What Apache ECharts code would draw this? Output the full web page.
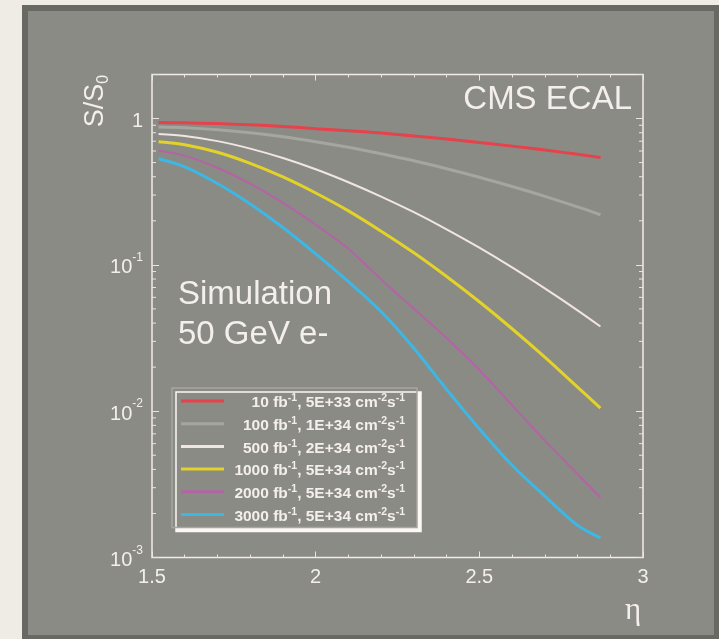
<!DOCTYPE html>
<html>
<head>
<meta charset="utf-8">
<title>CMS ECAL S/S0 vs eta</title>
<script src="https://cdn.jsdelivr.net/npm/echarts@6/dist/echarts.min.js"></script>
<style>
  html, body { margin: 0; padding: 0; background: #efece6; }
  #main { width: 719px; height: 639px; }
</style>
</head>
<body>
<div id="main"></div>
<script>
const eta = [1.52, 1.6, 1.7, 1.8, 1.9, 2.0, 2.1, 2.2, 2.3, 2.4, 2.5, 2.6, 2.7, 2.8, 2.87]

// S/S0 for each integrated luminosity
const s10 = [0.940, 0.935, 0.924, 0.906, 0.883, 0.853, 0.826, 0.796, 0.760, 0.724, 0.686, 0.648, 0.609, 0.570, 0.542]
const s100 = [0.875, 0.865, 0.838, 0.800, 0.751, 0.695, 0.636, 0.574, 0.514, 0.454, 0.397, 0.343, 0.294, 0.249, 0.220]
const s500 = [0.783, 0.760, 0.701, 0.623, 0.537, 0.450, 0.367, 0.293, 0.229, 0.175, 0.131, 0.096, 0.069, 0.0489, 0.0379]
const s1000 = [0.694, 0.663, 0.588, 0.494, 0.399, 0.310, 0.234, 0.170, 0.121, 0.0833, 0.056, 0.0366, 0.0234, 0.0146, 0.0105]
const s2000 = [0.605, 0.558, 0.461, 0.359, 0.265, 0.188, 0.129, 0.0794, 0.0501, 0.0316, 0.0191, 0.0110, 0.0063, 0.00372, 0.00257]
const s3000 = [0.531, 0.468, 0.360, 0.261, 0.180, 0.119, 0.0769, 0.048, 0.0269, 0.0141, 0.00759, 0.00427, 0.00263, 0.00166, 0.00136]

// legend text parts
const lumi = ['10', '100', '500', '1000', '2000', '3000']
const rate = ['5E+33', '1E+34', '2E+34', '5E+34', '5E+34', '5E+34']

// minor ticks of the log axis (2..9 in each decade)
const yMinorTicks = [
  0.002, 0.003, 0.004, 0.005, 0.006, 0.007, 0.008, 0.009,
  0.02, 0.03, 0.04, 0.05, 0.06, 0.07, 0.08, 0.09,
  0.2, 0.3, 0.4, 0.5, 0.6, 0.7, 0.8, 0.9
]

const curves = [s10, s100, s500, s1000, s2000, s3000]
const colors = ['#e6424c', '#a4a69f', '#f1e5e4', '#e2d22a', '#b463a6', '#3db7e4']
const widths = [3, 3, 2, 3, 2, 3]
const names = lumi.map((l, i) => l + ' fb-1, ' + rate[i] + ' cm-2s-1')

const textColor = '#f4efec'
const tickColor = '#ebe5e1'
const font = '"Liberation Sans", Arial, Helvetica, sans-serif'

var myChart = echarts.init(document.getElementById('main'))

var series = curves.map((vals, i) => ({
  name: names[i],
  type: 'line',
  data: eta.map((e, j) => [e, vals[j]]),
  symbol: 'none',
  smooth: 0.3,
  lineStyle: { color: colors[i], width: widths[i] },
  itemStyle: { color: colors[i] },
  z: 3
}))

// short minor ticks on the left and right log axes
series.push({
  type: 'custom',
  silent: true,
  data: yMinorTicks.map(v => [1.5, v]),
  encode: { x: 0, y: 1 },
  renderItem: function (params, api) {
    var v = api.value(1)
    var l = api.coord([1.5, v])
    var r = api.coord([3, v])
    return {
      type: 'group',
      children: [
        { type: 'line', shape: { x1: l[0], y1: l[1], x2: l[0] + 4, y2: l[1] }, style: { stroke: tickColor, lineWidth: 1 } },
        { type: 'line', shape: { x1: r[0], y1: r[1], x2: r[0] - 4, y2: r[1] }, style: { stroke: tickColor, lineWidth: 1 } }
      ]
    }
  },
  z: 2
})

myChart.setOption({
  animation: false,
  backgroundColor: '#efece6',
  textStyle: { fontFamily: font },
  graphic: [
    {
      type: 'rect',
      z: -10,
      shape: { x: 25, y: 8, width: 692, height: 630 },
      style: { fill: '#8a8b84', stroke: '#686963', lineWidth: 6 }
    },
    {
      type: 'text',
      x: 632,
      y: 100,
      style: { text: 'CMS ECAL', fontSize: 33, fontFamily: font, fill: textColor, align: 'right', verticalAlign: 'middle' }
    },
    {
      type: 'text',
      x: 178,
      y: 275,
      style: { text: 'Simulation\n50 GeV e-', fontSize: 33, lineHeight: 40, fontFamily: font, fill: textColor, align: 'left', verticalAlign: 'top' }
    },
    {
      type: 'text',
      x: 96,
      y: 101,
      rotation: Math.PI / 2,
      style: {
        text: '{a|S/S}{b|0}',
        align: 'center',
        verticalAlign: 'middle',
        rich: {
          a: { fontSize: 27, lineHeight: 31, fontFamily: font, fill: textColor },
          b: { fontSize: 16, fontFamily: font, fill: textColor, verticalAlign: 'bottom' }
        }
      }
    },
    {
      type: 'text',
      x: 633,
      y: 611,
      style: { text: 'η', fontSize: 31, fontFamily: '"Liberation Serif", "DejaVu Serif", serif', fill: textColor, align: 'center', verticalAlign: 'middle' }
    }
  ],
  grid: {
    left: 152,
    right: 76,
    top: 74.5,
    bottom: 81.5,
    containLabel: false,
    show: true,
    backgroundColor: 'transparent',
    borderColor: '#f2ebe8',
    borderWidth: 1.5
  },
  legend: {
    data: names,
    orient: 'vertical',
    left: 172,
    top: 388,
    icon: 'rect',
    itemWidth: 43,
    itemHeight: 3,
    itemGap: 2.7,
    itemTextGap: 2,
    padding: [3, 12, 3, 9],
    backgroundColor: '#8a8b84',
    borderColor: '#a7a69f',
    borderWidth: 1.5,
    shadowColor: '#fbf8f6',
    shadowBlur: 0,
    shadowOffsetX: 4,
    shadowOffsetY: 4,
    selectedMode: false,
    formatter: function (name) {
      var i = names.indexOf(name)
      return '{t|' + lumi[i] + ' fb}{s|-1}{t|, ' + rate[i] + ' cm}{s|-2}{t|s}{s|-1}'
    },
    textStyle: {
      color: textColor,
      width: 176,
      rich: {
        t: { fontSize: 15.5, lineHeight: 16, fontWeight: 'bold', color: textColor, fontFamily: font, padding: [4, 0, 0, 0], align: 'right' },
        s: { fontSize: 10.5, lineHeight: 11, fontWeight: 'bold', color: textColor, fontFamily: font, verticalAlign: 'top', align: 'right' }
      }
    }
  },
  xAxis: [
    {
      type: 'value',
      min: 1.5,
      max: 3,
      interval: 0.5,
      axisLine: { show: false },
      axisTick: { inside: true, length: 6, lineStyle: { color: tickColor } },
      minorTick: { show: true, splitNumber: 5, length: 3, lineStyle: { color: tickColor } },
      splitLine: { show: false },
      axisLabel: { color: textColor, fontSize: 20, margin: 10, fontFamily: font }
    },
    {
      type: 'value',
      position: 'top',
      min: 1.5,
      max: 3,
      interval: 0.5,
      axisLine: { show: false },
      axisTick: { inside: true, length: 6, lineStyle: { color: tickColor } },
      minorTick: { show: true, splitNumber: 5, length: 3, lineStyle: { color: tickColor } },
      splitLine: { show: false },
      axisLabel: { show: false }
    }
  ],
  yAxis: [
    {
      type: 'log',
      logBase: 10,
      min: 0.001,
      max: 2,
      axisLine: { show: false },
      axisTick: { inside: true, length: 7, lineStyle: { color: tickColor } },
      splitLine: { show: false },
      axisLabel: {
        margin: 9,
        formatter: function (v) {
          var p = Math.log10(v)
          var r = Math.round(p)
          if (Math.abs(p - r) > 1e-6) return ''
          if (r === 0) return '{b|1}'
          return '{b|10}{s|' + r + '}'
        },
        rich: {
          b: { fontSize: 20, color: textColor, fontFamily: font, padding: [6, 0, 0, 0] },
          s: { fontSize: 12, color: textColor, fontFamily: font, verticalAlign: 'top' }
        }
      }
    },
    {
      type: 'log',
      logBase: 10,
      position: 'right',
      min: 0.001,
      max: 2,
      axisLine: { show: false },
      axisTick: { inside: true, length: 7, lineStyle: { color: tickColor } },
      splitLine: { show: false },
      axisLabel: { show: false }
    }
  ],
  series: series
})
</script>
</body>
</html>
